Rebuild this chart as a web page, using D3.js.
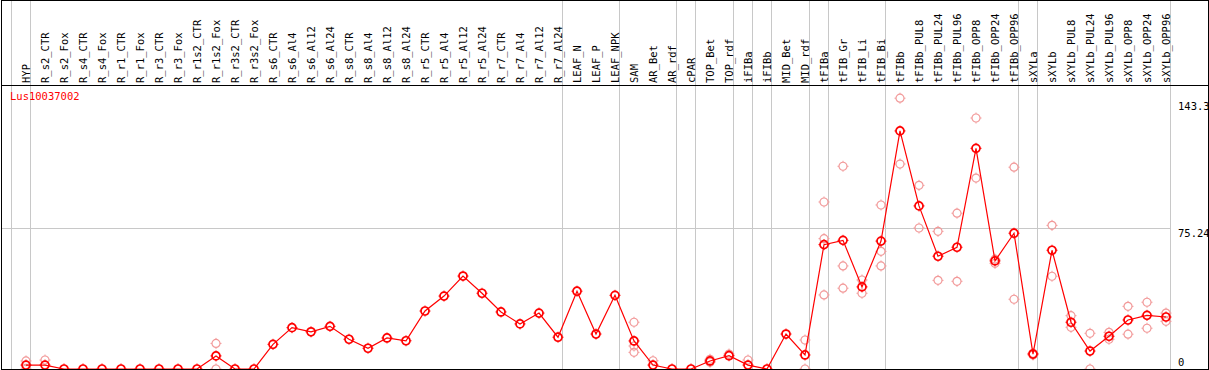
<!DOCTYPE html>
<html>
<head>
<meta charset="utf-8">
<script src="https://cdn.jsdelivr.net/npm/d3@7/dist/d3.min.js"></script>
<style>
	body { margin: 0; background: #fff; }
	svg { display: block; font-family: "DejaVu Sans Mono", monospace; font-size: 10.5px; }
</style>
</head>
<body>
<script>
const geneName = "Lus10037002";

const categories = [
	"HYP",
	"R_s2_CTR", "R_s2_Fox", "R_s4_CTR", "R_s4_Fox", "R_r1_CTR", "R_r1_Fox", "R_r3_CTR", "R_r3_Fox",
	"R_r1s2_CTR", "R_r1s2_Fox", "R_r3s2_CTR", "R_r3s2_Fox",
	"R_s6_CTR", "R_s6_Al4", "R_s6_Al12", "R_s6_Al24", "R_s8_CTR", "R_s8_Al4", "R_s8_Al12", "R_s8_Al24",
	"R_r5_CTR", "R_r5_Al4", "R_r5_Al12", "R_r5_Al24", "R_r7_CTR", "R_r7_Al4", "R_r7_Al12", "R_r7_Al24",
	"LEAF_N", "LEAF_P", "LEAF_NPK", "SAM", "AR_Bet", "AR_rdf", "cPAR", "TOP_Bet", "TOP_rdf",
	"iFIBa", "iFIBb", "MID_Bet", "MID_rdf", "tFIBa", "tFIB_Gr", "tFIB_Li", "tFIB_Bi",
	"tFIBb", "tFIBb_PUL8", "tFIBb_PUL24", "tFIBb_PUL96", "tFIBb_OPP8", "tFIBb_OPP24", "tFIBb_OPP96",
	"sXYLa", "sXYLb", "sXYLb_PUL8", "sXYLb_PUL24", "sXYLb_PUL96", "sXYLb_OPP8", "sXYLb_OPP24", "sXYLb_OPP96"
];

// mean expression per sample
const means = [
	2.1,
	2.1, 0, 0, 0, 0, 0, 0, 0,
	0, 7.0, 0, 0,
	13.2, 22.1, 19.9, 22.8, 15.9, 11.1, 16.6, 15.1,
	31.0, 39.0, 49.7, 40.5, 30.5, 24.1, 29.9, 17.0,
	41.6, 18.7, 39.4, 15.0, 2.1, 0, 0, 4.3, 7.1,
	2.1, 0, 18.7, 7.5, 66.5, 68.8, 43.9, 68.4,
	127.3, 87.2, 60.3, 65.1, 118.0, 57.8, 72.6,
	8.0, 63.5, 25.0, 9.6, 17.5, 26.2, 28.7, 27.8
];

// individual replicates (only those that show apart from the mean)
const replicates = [
	[4.3, 0],
	[4.8], [], [], [], [], [], [], [],
	[], [13.7, 0], [], [],
	[], [], [], [], [], [], [], [],
	[], [], [], [], [], [], [], [],
	[], [], [], [25.0, 12.3, 8.9], [4.4], [], [], [5.2, 3.6], [8.0],
	[4.8], [], [], [15.5, 0], [89.3, 69.7, 39.6], [108.4, 55.1, 43.2], [47.6, 40.5], [87.7, 62.9, 55.1],
	[144.8, 109.6], [98.2, 75.4], [73.6, 47.4], [83.3, 46.9], [134.2, 102.1], [58.7, 56.5], [107.9, 37.3],
	[8.4, 7.5], [76.8, 49.6], [28.5, 22.3], [19.1, 0], [19.6, 15.9], [33.5, 18.6], [35.7, 21.8], [29.9, 25.5]
];

// a grey rule is drawn after each of these samples
const dividers = ["HYP", "R_r7_Al24", "LEAF_NPK", "AR_rdf", "cPAR", "TOP_rdf", "iFIBa", "iFIBb",
	"MID_rdf", "tFIBa", "tFIB_Bi", "tFIBb_OPP96", "sXYLa", "sXYLb_OPP96"];

const yTicks = [0, 75.24, 143.3];

const width = 1209, height = 370;
const step = 19;

let scale = {
	x: d3.scalePoint().domain(categories).range([26, 26 + step * (categories.length - 1)]),
	y: d3.scaleLinear().domain([0, 143.3]).range([369, 101])
};

let svg = d3.select("body").append("svg")
	.attr("width", width)
	.attr("height", height)
	.attr("viewBox", `0 0 ${width} ${height}`);

svg.append("defs").append("clipPath")
	.attr("id", "plot")
	.append("rect")
		.attr("x", 0).attr("y", 86)
		.attr("width", width).attr("height", 283);

// grey rules
let grid = svg.append("g")
	.attr("stroke", "#c8c8c8")
	.attr("shape-rendering", "crispEdges");

grid.selectAll("line.v")
	.data([scale.x(categories[0]) - step].concat(dividers.map(d => scale.x(d))))
	.enter()
	.append("line")
		.attr("class", "v")
		.attr("x1", d => Math.round(d) + 4.5)
		.attr("x2", d => Math.round(d) + 4.5)
		.attr("y1", 0)
		.attr("y2", 369);

grid.append("line")
	.attr("x1", 1).attr("x2", 1171)
	.attr("y1", Math.round(scale.y(75.24)) + 0.5)
	.attr("y2", Math.round(scale.y(75.24)) + 0.5);

// frame
let frame = svg.append("g")
	.attr("stroke", "#000")
	.attr("shape-rendering", "crispEdges");
frame.append("line").attr("x1", 1.5).attr("x2", 1.5).attr("y1", 0).attr("y2", 370);
frame.append("line").attr("x1", 1208.5).attr("x2", 1208.5).attr("y1", 0).attr("y2", 370);
frame.append("line").attr("x1", 1).attr("x2", 1209).attr("y1", 0.5).attr("y2", 0.5);
frame.append("line").attr("x1", 1).attr("x2", 1209).attr("y1", 85.5).attr("y2", 85.5);
frame.append("line").attr("x1", 1).attr("x2", 1209).attr("y1", 369.5).attr("y2", 369.5).attr("stroke-width", 2);

// sample labels
svg.append("g")
	.attr("class", "labels")
	.selectAll("text")
		.data(categories)
		.enter()
		.append("text")
			.attr("transform", d => `translate(${scale.x(d)}, 83) rotate(-90)`)
			.attr("dominant-baseline", "central")
			.attr("fill", "#000")
			.text(d => d);

// right-hand values
svg.append("g")
	.attr("class", "axis y")
	.selectAll("text")
		.data(yTicks)
		.enter()
		.append("text")
			.attr("x", 1178)
			.attr("y", d => Math.min(scale.y(d) + 9, 366))
			.attr("fill", "#000")
			.text(d => d);

svg.append("text")
	.attr("x", 10)
	.attr("y", 100)
	.attr("fill", "#f00")
	.text(geneName);

const marker = "M0,-5.5V-4M0,4V5.5M-5.5,0H-4M4,0H5.5";

let plot = svg.append("g")
	.attr("clip-path", "url(#plot)");

let reps = plot.append("g")
	.attr("class", "replicates")
	.selectAll("g")
		.data(categories.flatMap((c, i) => replicates[i].map(v => ({ c, v }))))
		.enter()
		.append("g")
			.attr("transform", d => `translate(${scale.x(d.c)}, ${scale.y(d.v)})`)
			.attr("stroke", "#f29a9a")
			.attr("fill", "none");
reps.append("circle").attr("r", 4).attr("stroke-width", 1.2);
reps.append("path").attr("d", marker).attr("stroke-width", 1);

let line = d3.line()
	.x((d, i) => scale.x(categories[i]))
	.y(d => scale.y(d));

plot.append("path")
	.attr("d", line(means))
	.attr("fill", "none")
	.attr("stroke", "#f00")
	.attr("stroke-width", 1.2);

let pts = plot.append("g")
	.attr("class", "means")
	.selectAll("g")
		.data(means)
		.enter()
		.append("g")
			.attr("transform", (d, i) => `translate(${scale.x(categories[i])}, ${scale.y(d)})`)
			.attr("stroke", "#f00")
			.attr("fill", "none");
pts.append("circle").attr("r", 4).attr("stroke-width", 1.7);
pts.append("path").attr("d", marker).attr("stroke-width", 1);
</script>
</body>
</html>
